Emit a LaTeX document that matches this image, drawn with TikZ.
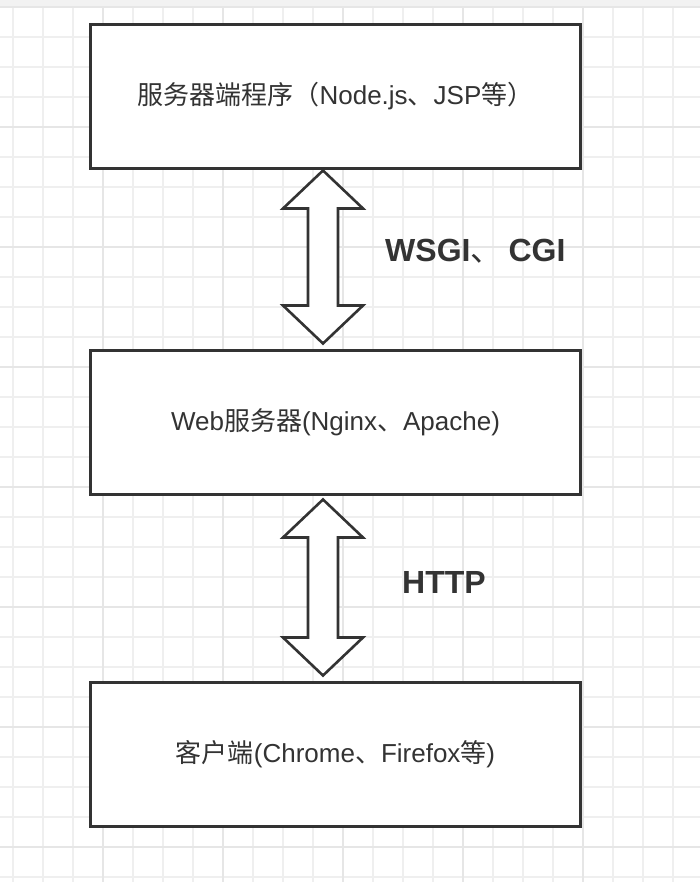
\documentclass[tikz,border=0pt]{standalone}
\usepackage{fontspec}
\setmainfont{Liberation Sans}
\newfontfamily\cjk{Noto Sans CJK SC}
\usetikzlibrary{calc}
\definecolor{ink}{HTML}{333333}
\definecolor{gridminor}{HTML}{EFEFEF}
\definecolor{gridmajor}{HTML}{E6E6E6}
\definecolor{band}{HTML}{F2F2F2}
\tikzset{
  box/.style={draw=ink, line width=3pt, fill=white, minimum width=490pt, minimum height=144pt, inner sep=0pt, outer sep=0pt, anchor=north west, text=ink, font=\fontsize{26}{26}\selectfont},
  blockarrow/.style={draw=ink, line width=2.6pt, fill=white, line join=miter},
  lbl/.style={text=ink, font=\fontsize{32}{32}\selectfont\bfseries, anchor=west, inner sep=0pt}
}
\begin{document}
\begin{tikzpicture}[x=1pt,y=-1pt]
\useasboundingbox (0,0) rectangle (700,882);
\fill[white] (0,0) rectangle (700,882);
% grid
\foreach \i in {0,...,22} {
  \draw[gridminor, line width=1.2pt] ({13+30*\i},7) -- ({13+30*\i},882);
}
\foreach \j in {0,...,29} {
  \draw[gridminor, line width=1.2pt] (0,{7+30*\j}) -- (700,{7+30*\j});
}
\foreach \i in {0,...,5} {
  \draw[gridmajor, line width=1.2pt] ({103+120*\i},7) -- ({103+120*\i},882);
}
\foreach \j in {0,...,7} {
  \draw[gridmajor, line width=1.2pt] (0,{7+120*\j}) -- (700,{7+120*\j});
}
\fill[band] (0,0) rectangle (700,6);
% boxes
\node[box] (b1) at (90.5,24.5) {{\cjk 服务器端程序（}Node.js{\cjk 、}JSP{\cjk 等）}};
\node[box] (b2) at (90.5,350.5) {Web{\cjk 服务器}(Nginx{\cjk 、}Apache)};
\node[box] (b3) at (90.5,682.5) {{\cjk 客户端}(Chrome{\cjk 、}Firefox{\cjk 等})};
% arrows
\coordinate (t1) at ($(b1.south)+(-12.5,2)$);
\coordinate (u1) at ($(b2.north)+(-12.5,-7)$);
\draw[blockarrow] (t1) -- ++(40,38) -- ++(-25,0) -- ($(u1)+(15,-38)$) -- ++(25,0) -- (u1) -- ++(-40,-38) -- ++(25,0) -- ($(t1)+(-15,38)$) -- ++(-25,0) -- cycle;
\coordinate (t2) at ($(b2.south)+(-12.5,5)$);
\coordinate (u2) at ($(b3.north)+(-12.5,-7)$);
\draw[blockarrow] (t2) -- ++(40,38) -- ++(-25,0) -- ($(u2)+(15,-38)$) -- ++(25,0) -- (u2) -- ++(-40,-38) -- ++(25,0) -- ($(t2)+(-15,38)$) -- ++(-25,0) -- cycle;
\node[lbl] (l1) at (385,251) {WSGI{\cjk\mdseries 、}\hspace{6pt}CGI};
\node[lbl] (l2) at (402,582) {HTTP};
\end{tikzpicture}
\end{document}
